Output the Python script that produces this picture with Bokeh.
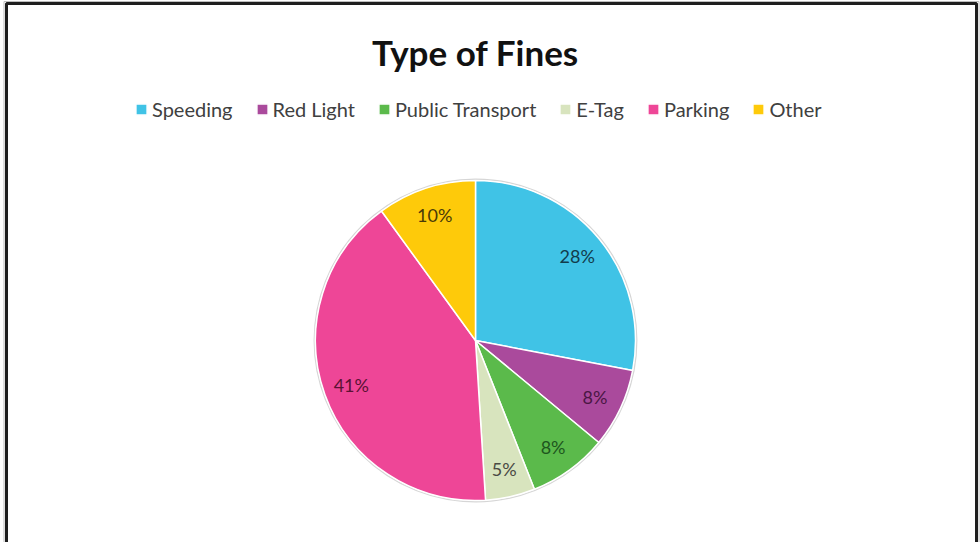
import math
from bokeh.plotting import figure
from bokeh.models import ColumnDataSource, Range1d, Label, Legend, LegendItem
from bokeh.core.properties import value
from bokeh.embed import file_html
from bokeh.resources import INLINE

# ---- data ----
categories = ["Speeding", "Red Light", "Public Transport", "E-Tag", "Parking", "Other"]
percents = [28, 8, 8, 5, 41, 10]
colors = ["#40C3E6", "#AA4A9C", "#5BBA4B", "#D8E4BE", "#EE4697", "#FECA0A"]
label_colors = ["#123C4C", "#4A1744", "#1E561E", "#4A4A44", "#5A1234", "#4A3A08"]
title_text = "Type of Fines"

# ---- layout constants ----
W, H = 980, 542
CX, CY, R = 475, 202, 160
LABEL_R = 132
FONT = "Lato"

total = sum(percents)
starts, ends, lx, ly, texts = [], [], [], [], []
cum = 0.0
for v in percents:
    a0 = math.pi / 2 - 2 * math.pi * cum / total
    a1 = math.pi / 2 - 2 * math.pi * (cum + v) / total
    mid = (a0 + a1) / 2
    starts.append(a0)
    ends.append(a1)
    lx.append(CX + LABEL_R * math.cos(mid))
    ly.append(CY + LABEL_R * math.sin(mid))
    texts.append(f"{v}%")
    cum += v

src = ColumnDataSource(dict(cat=categories, val=percents, start=starts, end=ends,
                            color=colors, lx=lx, ly=ly, text=texts, tcolor=label_colors))

p = figure(width=W, height=H, x_range=Range1d(0, W), y_range=Range1d(0, H),
           output_backend="svg", toolbar_location=None, title=None, min_border=0)
p.axis.visible = False
p.grid.visible = False
p.outline_line_color = None
p.background_fill_color = "white"
p.border_fill_color = "white"

# frame border of the original image
p.quad(left=6, right=976, top=539, bottom=-20, fill_color=None,
       line_color="#1e1e1e", line_width=3)
p.quad(left=3.5, right=978.5, top=541, bottom=-20, fill_color=None,
       line_color="#bdbdbd", line_width=1)

# subtle outer ring
p.circle(x=CX, y=CY, radius=R + 1.2, fill_color=None, line_color="#d6d6d6", line_width=1.5)

wedges = p.wedge(x=CX, y=CY, radius=R, start_angle="start", end_angle="end",
                 direction="clock", fill_color="color", line_color="white",
                 line_width=1.5, source=src)

p.text(x="lx", y="ly", text="text", source=src, text_align="center",
       text_baseline="middle", text_font=value(FONT), text_font_size="18px",
       text_color="tcolor")

title = Label(x=CX, y=491, text=title_text, text_align="center", text_baseline="middle",
              text_font=FONT, text_font_size="35px", text_font_style="bold",
              text_color="#111111")
p.add_layout(title)

items = [LegendItem(label=c, renderers=[wedges], index=i) for i, c in enumerate(categories)]
legend = Legend(items=items, orientation="horizontal", location=(134, 421),
                margin=0, padding=0, spacing=22, label_standoff=4,
                glyph_width=14, glyph_height=14,
                label_text_font=FONT, label_text_font_size="20px",
                label_text_color="#404040", border_line_color=None,
                background_fill_alpha=0)
p.add_layout(legend, "center")

open("out.html", "w").write(file_html(p, INLINE))
